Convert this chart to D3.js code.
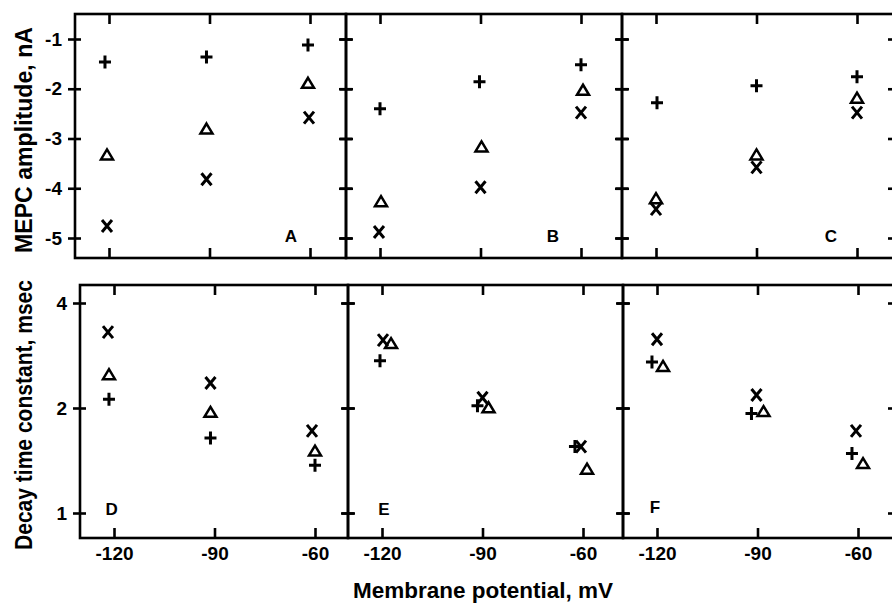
<!DOCTYPE html>
<html>
<head>
<meta charset="utf-8">
<script src="https://cdn.jsdelivr.net/npm/d3@7"></script>
<style>
  body { margin: 0; background: #fff; }
  text { font-family: "Liberation Sans", Arial, sans-serif; font-weight: bold; fill: #000; }
</style>
</head>
<body>
<script>
// panels, top row = amplitude (A-C), bottom row = decay time constant (D-F)
var panelNames = ["A", "B", "C", "D", "E", "F"];
var xTicks = [-120, -90, -60];
var ampTicks = [-1, -2, -3, -4, -5];
var decayTicks = [1, 2, 4];

// "+" series
var plusX = [[-121.2, -90.9, -60.6], [-120, -90.3, -60], [-119.7, -90, -60],
             [-121.5, -91.2, -60], [-120.6, -91.5, -62.4], [-121.5, -91.8, -61.8]];
var plusY = [[-1.46, -1.36, -1.12], [-2.40, -1.86, -1.52], [-2.28, -1.94, -1.76],
             [2.12, 1.64, 1.37], [2.73, 2.03, 1.55], [2.71, 1.93, 1.48]];
// triangle series
var triX = [[-120.6, -90.9, -60.6], [-119.7, -89.7, -59.4], [-120, -90, -60],
            [-121.5, -91.2, -60], [-117.3, -88.2, -58.8], [-118.2, -88.2, -58.5]];
var triY = [[-3.32, -2.80, -1.88], [-4.26, -3.16, -2.02], [-4.20, -3.32, -2.18],
            [2.50, 1.95, 1.51], [3.07, 2.01, 1.34], [2.64, 1.96, 1.39]];
// "x" series
var crossX = [[-120.6, -90.9, -60.3], [-120.3, -90, -60], [-120, -90, -60],
              [-121.8, -91.2, -60.9], [-119.7, -90, -60.6], [-120, -90.3, -60.6]];
var crossY = [[-4.76, -3.82, -2.58], [-4.88, -3.98, -2.48], [-4.42, -3.58, -2.48],
              [3.30, 2.36, 1.72], [3.13, 2.14, 1.55], [3.15, 2.18, 1.72]];

// panel letter positions in data units
var letterX = [-65.7, -68.4, -67.8, -120.7, -119.4, -120.6];
var letterY = [-5.08, -5.08, -5.08, 0.99, 0.99, 1.0];

var panelLeft = [75, 346, 622, 80, 348, 623];
var panelRight = [346, 622, 894, 348, 623, 894];
var rowTop = [14, 285], rowBottom = [258, 538];

var shapes = {
    plus: "M-6,0H6M0,-6.5V6.5",
    cross: "M-5,-6L5,6M5,-6L-5,6",
    tri: "M0,-5L6,5L-6,5Z"
};

var svg = d3.select("body").append("svg")
    .attr("width", 892)
    .attr("height", 604);

panelNames.forEach(function(name, i) {
    var row = i < 3 ? 0 : 1;
    var left = panelLeft[i], right = panelRight[i];
    var top = rowTop[row], bottom = rowBottom[row];

    var x = d3.scaleLinear().domain([-120, -60]).range([left + 34, left + 235]);
    var y = row == 0
        ? d3.scaleLinear().domain([-1, -5]).range([39, 238])
        : d3.scaleLog().domain([1, 4]).range([513, 303]);
    var yTicks = row == 0 ? ampTicks : decayTicks;

    var g = svg.append("g");

    g.append("rect")
        .attr("x", left).attr("y", top)
        .attr("width", right - left).attr("height", bottom - top)
        .attr("fill", "none").attr("stroke", "#000").attr("stroke-width", 2.6);

    // bottom ticks (inward), labels only on the lower row
    var bottomAxis = d3.axisBottom(x).tickValues(xTicks).tickSize(-10).tickPadding(9)
        .tickFormat(function(d) { return row == 1 ? String(d) : ""; });
    g.append("g").attr("transform", "translate(0," + bottom + ")").call(bottomAxis);

    var topAxis = d3.axisTop(x).tickValues(xTicks).tickSize(-10).tickFormat("");
    g.append("g").attr("transform", "translate(0," + top + ")").call(topAxis);

    var leftAxis = d3.axisLeft(y).tickValues(yTicks).tickSize(7).tickPadding(6)
        .tickFormat(function(d) { return (i == 0 || i == 3) ? String(d) : ""; });
    g.append("g").attr("transform", "translate(" + left + ",0)").call(leftAxis)
        .selectAll("line").attr("x1", 6);

    var rightAxis = d3.axisRight(y).tickValues(yTicks).tickSize(7).tickFormat("");
    g.append("g").attr("transform", "translate(" + right + ",0)").call(rightAxis)
        .selectAll("line").attr("x1", -6);

    g.selectAll(".domain").remove();
    g.selectAll(".tick line").attr("stroke", "#000").attr("stroke-width", 2.6);
    g.selectAll(".tick text")
        .attr("font-family", "Liberation Sans, Arial, sans-serif")
        .attr("font-weight", "bold")
        .attr("font-size", 19)
        .attr("fill", "#000");

    function drawSeries(xs, ys, shape) {
        g.selectAll(null)
            .data(d3.range(xs.length))
            .enter()
            .append("path")
            .attr("d", shapes[shape])
            .attr("transform", function(k) {
                return "translate(" + x(xs[k]) + "," + y(ys[k]) + ")";
            })
            .attr("fill", "none")
            .attr("stroke", "#000")
            .attr("stroke-width", shape == "tri" ? 2.5 : 3);
    }
    drawSeries(plusX[i], plusY[i], "plus");
    drawSeries(triX[i], triY[i], "tri");
    drawSeries(crossX[i], crossY[i], "cross");

    g.append("text")
        .attr("x", x(letterX[i]))
        .attr("y", y(letterY[i]))
        .attr("text-anchor", "middle")
        .attr("font-size", 17)
        .text(name);
});

// axis titles
svg.append("text")
    .attr("transform", "translate(32,140) rotate(-90)")
    .attr("text-anchor", "middle")
    .attr("font-size", 24)
    .attr("textLength", 226)
    .attr("lengthAdjust", "spacingAndGlyphs")
    .text("MEPC amplitude, nA");

svg.append("text")
    .attr("transform", "translate(32,415) rotate(-90)")
    .attr("text-anchor", "middle")
    .attr("font-size", 24)
    .attr("textLength", 270)
    .attr("lengthAdjust", "spacingAndGlyphs")
    .text("Decay time constant, msec");

svg.append("text")
    .attr("x", 483)
    .attr("y", 598)
    .attr("text-anchor", "middle")
    .attr("font-size", 22)
    .attr("textLength", 260)
    .attr("lengthAdjust", "spacingAndGlyphs")
    .text("Membrane potential, mV");
</script>
</body>
</html>
